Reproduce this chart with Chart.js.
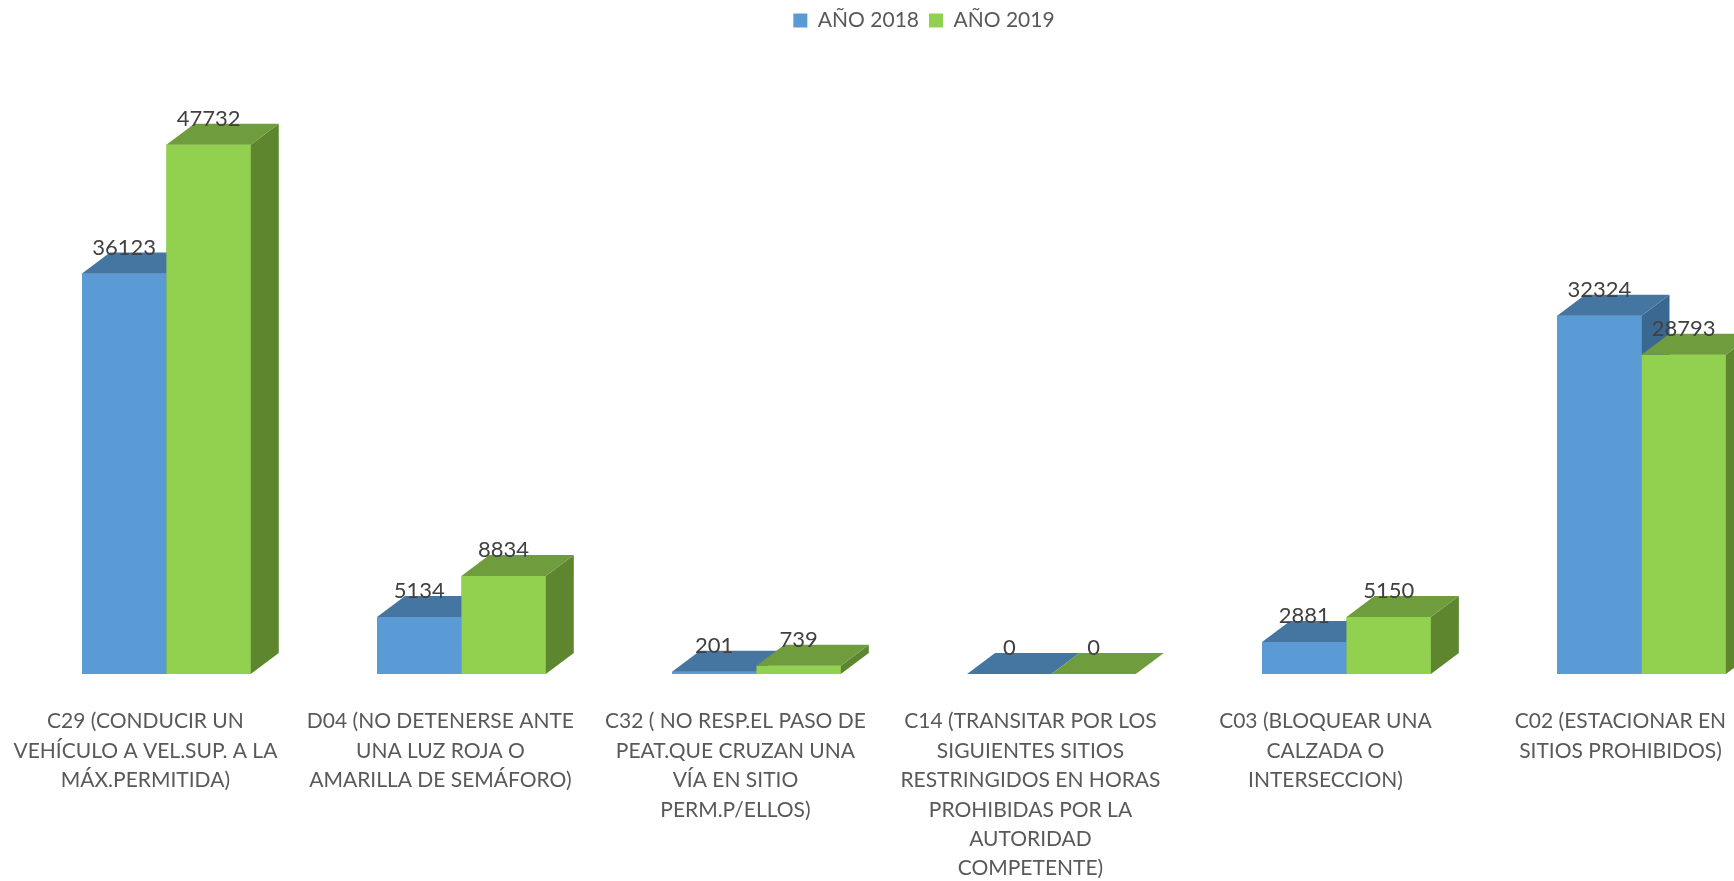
<!DOCTYPE html>
<html>
<head>
<meta charset="utf-8">
<script src="https://cdn.jsdelivr.net/npm/chart.js@4.4.1/dist/chart.umd.min.js"></script>
<style>
  html, body { margin: 0; padding: 0; background: #ffffff; overflow: hidden; }
  #wrap { width: 1848px; height: 881px; }
</style>
</head>
<body>
<div id="wrap"><canvas id="chart" width="1848" height="881"></canvas></div>
<script>
  var categories = [
    ['C29 (CONDUCIR UN', 'VEHÍCULO A VEL.SUP. A LA', 'MÁX.PERMITIDA)'],
    ['D04 (NO DETENERSE ANTE', 'UNA LUZ ROJA O', 'AMARILLA DE SEMÁFORO)'],
    ['C32 ( NO RESP.EL PASO DE', 'PEAT.QUE CRUZAN UNA', 'VÍA EN SITIO', 'PERM.P/ELLOS)'],
    ['C14 (TRANSITAR POR LOS', 'SIGUIENTES SITIOS', 'RESTRINGIDOS EN HORAS', 'PROHIBIDAS POR LA', 'AUTORIDAD', 'COMPETENTE)'],
    ['C03 (BLOQUEAR UNA', 'CALZADA O', 'INTERSECCION)'],
    ['C02 (ESTACIONAR EN', 'SITIOS PROHIBIDOS)']
  ];
  var seriesNames = ['AÑO 2018', 'AÑO 2019'];
  var values2018 = [36123, 5134, 201, 0, 2881, 32324];
  var values2019 = [47732, 8834, 739, 0, 5150, 28793];

  // front / top / side shades, like the 3D columns
  var shades = [
    { front: '#5b9bd5', top: '#4575a1', side: '#3b6890' },
    { front: '#92d050', top: '#6f9c3c', side: '#5e862f' }
  ];
  var DEPTH_X = 28, DEPTH_Y = 21;
  var FONT = 'Lato, "Open Sans", sans-serif';

  function drawFaces(ctx, bar, shade) {
    var left = bar.x - bar.width / 2;
    var right = bar.x + bar.width / 2;
    var top = bar.y, base = bar.base;
    ctx.fillStyle = shade.side;
    ctx.beginPath();
    ctx.moveTo(right, top);
    ctx.lineTo(right + DEPTH_X, top - DEPTH_Y);
    ctx.lineTo(right + DEPTH_X, base - DEPTH_Y);
    ctx.lineTo(right, base);
    ctx.closePath();
    ctx.fill();
    ctx.fillStyle = shade.top;
    ctx.beginPath();
    ctx.moveTo(left, top);
    ctx.lineTo(left + DEPTH_X, top - DEPTH_Y);
    ctx.lineTo(right + DEPTH_X, top - DEPTH_Y);
    ctx.lineTo(right, top);
    ctx.closePath();
    ctx.fill();
  }

  // Chart.js paints the last dataset first; repaint in index order so the
  // 2019 column hides the side face of the 2018 one, then add the faces.
  var columns3d = {
    id: 'columns3d',
    afterDatasetsDraw: function (chart) {
      var ctx = chart.ctx;
      ctx.save();
      chart.data.datasets.forEach(function (ds, i) {
        chart.getDatasetMeta(i).data.forEach(function (bar) {
          bar.draw(ctx, chart.chartArea);
          drawFaces(ctx, bar, shades[i]);
        });
      });
      ctx.font = '22px ' + FONT;
      ctx.fillStyle = '#404040';
      ctx.textAlign = 'center';
      ctx.textBaseline = 'middle';
      chart.data.datasets.forEach(function (ds, i) {
        chart.getDatasetMeta(i).data.forEach(function (bar, j) {
          ctx.fillText(String(ds.data[j]), bar.x, bar.y - 26);
        });
      });
      ctx.restore();
    }
  };

  new Chart(document.getElementById('chart'), {
    type: 'bar',
    data: {
      labels: categories,
      datasets: [
        { label: seriesNames[0], data: values2018, backgroundColor: shades[0].front, borderWidth: 0 },
        { label: seriesNames[1], data: values2019, backgroundColor: shades[1].front, borderWidth: 0 }
      ]
    },
    options: {
      responsive: false,
      animation: false,
      layout: { padding: 0 },
      datasets: { bar: { categoryPercentage: 0.572, barPercentage: 1.0 } },
      plugins: {
        legend: {
          position: 'top',
          labels: {
            boxWidth: 14, boxHeight: 14, padding: 10,
            color: '#595959',
            font: { family: FONT, size: 21 }
          }
        },
        tooltip: { enabled: false }
      },
      scales: {
        x: {
          grid: { display: false, drawTicks: false },
          border: { display: false },
          ticks: {
            color: '#595959', padding: 33, labelOffset: -21,
            maxRotation: 0, autoSkip: false,
            font: { family: FONT, size: 21, lineHeight: 1.4 }
          },
          afterFit: function (scale) { scale.height = 207; }
        },
        y: {
          min: 0, max: 57100,
          grid: { display: false, drawTicks: false },
          border: { display: false },
          ticks: { display: false },
          afterFit: function (scale) { scale.width = 17; }
        },
        y2: {
          position: 'right', min: 0, max: 1,
          grid: { display: false, drawTicks: false },
          border: { display: false },
          ticks: { display: false },
          afterFit: function (scale) { scale.width = 59; }
        }
      }
    },
    plugins: [columns3d]
  });
</script>
</body>
</html>
